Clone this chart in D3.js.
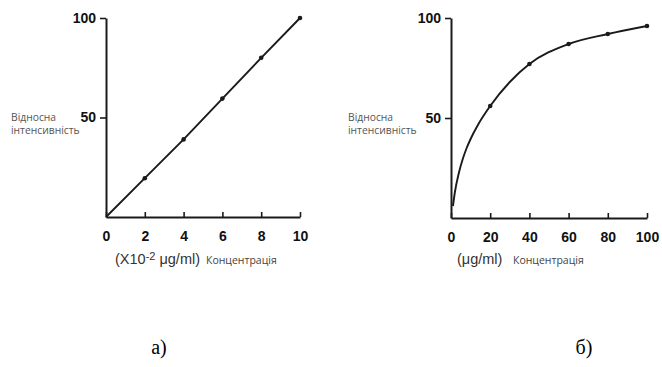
<!DOCTYPE html>
<html>
<head>
<meta charset="utf-8">
<script src="https://cdn.jsdelivr.net/npm/d3@7"></script>
<style>
  html, body { margin: 0; padding: 0; background: #fff; }
  svg { display: block; }
</style>
</head>
<body>
<svg id="fig" width="662" height="367"></svg>
<script>
// Panel а): linear calibration, concentration in units of 10^-2 µg/ml
const linConc = [0, 2, 4, 6, 8, 10];
const linIntensity = [0, 19.5, 39, 59.5, 80, 100];
const linTicks = [0, 2, 4, 6, 8, 10];

// Panel б): saturating response, concentration in µg/ml
const satCurveConc = [1, 2, 4, 6, 8, 10, 14, 20, 30, 40, 60, 80, 100];
const satCurveIntensity = [6, 13, 22.5, 29.5, 35, 39.5, 47, 56, 68, 77, 87, 92, 96];
const satPointConc = [20, 40, 60, 80, 100];
const satPointIntensity = [56, 77, 87, 92, 96];
const satTicks = [0, 20, 40, 60, 80, 100];

const yTicks = [50, 100];
const yLabel = ["Відносна", "інтенсивність"];
const xLabelWord = "Концентрація";
const panelNames = ["а)", "б)"];

const svg = d3.select("#fig");
const ink = "#1a1a1a";

function panel(opts) {
  const g = svg.append("g");
  const x = d3.scaleLinear().domain(opts.xDomain).range(opts.xRange);
  const y = d3.scaleLinear().domain([0, 100]).range([opts.yBottom, 18]);

  // x axis: ticks point up into the plot
  const xa = g.append("g")
    .attr("transform", `translate(0,${opts.yBottom})`)
    .call(d3.axisBottom(x).tickValues(opts.xTicks).tickSizeInner(-4).tickSizeOuter(0).tickPadding(14));
  // y axis
  const ya = g.append("g")
    .attr("transform", `translate(${opts.xRange[0]},0)`)
    .call(d3.axisLeft(y).tickValues(yTicks).tickSizeInner(6).tickSizeOuter(0).tickPadding(4));

  [xa, ya].forEach(a => {
    a.select(".domain").attr("stroke", ink).attr("stroke-width", 2);
    a.selectAll(".tick line").attr("stroke", ink).attr("stroke-width", 1.6);
    a.selectAll(".tick text")
      .attr("fill", "#111")
      .style("font-family", "'Liberation Sans', Arial, sans-serif")
      .style("font-size", "14px")
      .style("font-weight", "bold");
  });
  // the last tick at the x-axis end also closes the axis
  xa.selectAll(".tick line").attr("y2", -5);

  const line = d3.line().x(d => x(d[0])).y(d => y(d[1])).curve(opts.curve);
  g.append("path")
    .datum(d3.zip(opts.curveX, opts.curveY))
    .attr("d", line)
    .attr("fill", "none")
    .attr("stroke", ink)
    .attr("stroke-width", 1.9);

  g.selectAll("circle.pt")
    .data(d3.zip(opts.ptX, opts.ptY))
    .join("circle")
    .attr("class", "pt")
    .attr("cx", d => x(d[0]))
    .attr("cy", d => y(d[1]))
    .attr("r", 2.3)
    .attr("fill", ink);

  // y-axis title
  const yt = g.append("text")
    .attr("x", opts.yTitleX)
    .attr("y", 121)
    .attr("fill", "#555")
    .style("font-family", "'Open Sans', 'Noto Sans', sans-serif")
    .style("font-size", "10.3px");
  yLabel.forEach((s, i) => yt.append("tspan").attr("x", opts.yTitleX).attr("dy", i ? 13 : 0).text(s));

  // x-axis title: units then the word
  const xt = g.append("text")
    .attr("x", opts.unitX)
    .attr("y", 264)
    .attr("fill", "#333")
    .style("font-family", "'Liberation Sans', Arial, sans-serif")
    .style("font-size", "14.5px");
  opts.unit.forEach(part => {
    const t = xt.append("tspan").text(part.t);
    if (part.sup) t.attr("dy", -4).style("font-size", "11px");
    if (part.down) t.attr("dy", 4);
  });
  g.append("text")
    .attr("x", opts.wordX)
    .attr("y", 264)
    .attr("fill", "#444")
    .style("font-family", "'Open Sans', 'Noto Sans', sans-serif")
    .style("font-size", "10.5px")
    .text(xLabelWord);

  g.append("text")
    .attr("x", opts.nameX)
    .attr("y", 354)
    .attr("text-anchor", "middle")
    .attr("fill", "#000")
    .style("font-family", "'Liberation Serif', 'Times New Roman', serif")
    .style("font-size", "20px")
    .text(opts.name);
}

panel({
  xDomain: [0, 10], xRange: [106, 300], yBottom: 217, xTicks: linTicks,
  curveX: linConc, curveY: linIntensity, ptX: linConc.slice(1), ptY: linIntensity.slice(1),
  curve: d3.curveLinear,
  yTitleX: 11,
  unit: [{t: "(X10"}, {t: "-2", sup: true}, {t: " μg/ml)", down: true}],
  unitX: 115, wordX: 206,
  name: panelNames[0], nameX: 159
});

panel({
  xDomain: [0, 100], xRange: [451, 647], yBottom: 218, xTicks: satTicks,
  curveX: satCurveConc, curveY: satCurveIntensity, ptX: satPointConc, ptY: satPointIntensity,
  curve: d3.curveMonotoneX,
  yTitleX: 348,
  unit: [{t: "(μg/ml)"}],
  unitX: 457, wordX: 513,
  name: panelNames[1], nameX: 584
});
</script>
</body>
</html>
